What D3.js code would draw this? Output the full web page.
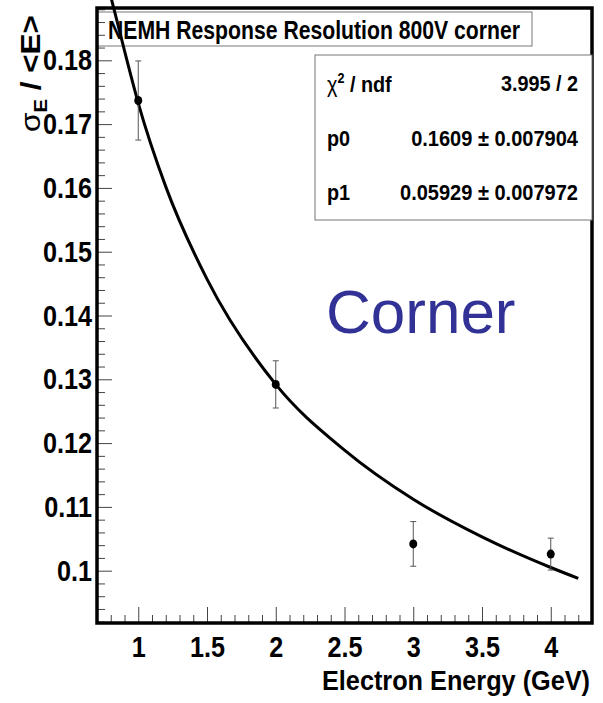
<!DOCTYPE html>
<html>
<head>
<meta charset="utf-8">
<script src="https://cdn.jsdelivr.net/npm/d3@7"></script>
<style>
  html, body { margin: 0; padding: 0; background: #fff; }
  svg text { font-family: 'Liberation Sans Narrow', 'Arial Narrow', 'Liberation Sans', Arial, sans-serif; font-weight: bold; }
</style>
</head>
<body>
<div id="chart"></div>
<script>
// measured points
const energies = [1, 2, 3, 4]
const resolution = [0.1737, 0.1292, 0.1042, 0.1026]
const resolutionErr = [0.0062, 0.0037, 0.0035, 0.0025]

// fit curve
const fitEnergies = [0.8, 0.85, 0.9, 1.0, 1.2, 1.5, 2.0, 2.5, 3.0, 3.5, 4.0, 4.2]
const fitValues = [0.1900, 0.1858, 0.1815, 0.1733, 0.1602, 0.1457, 0.1292, 0.1189, 0.1112, 0.1053, 0.1005, 0.0988]

const xTicks = [1, 1.5, 2, 2.5, 3, 3.5, 4]
const yTicks = [0.1, 0.11, 0.12, 0.13, 0.14, 0.15, 0.16, 0.17, 0.18]

const statsLabels = ['p0', 'p1']
const statsValues = ['0.1609 \u00b1 0.007904', '0.05929 \u00b1 0.007972']

const width = 603
const height = 703
const frame = { left: 97, right: 592, top: 8, bottom: 623 }

// squeeze text to look like a condensed font
function narrow(selection, k) {
  selection.each(function() {
    const len = this.getComputedTextLength()
    d3.select(this)
      .attr('textLength', len * k)
      .attr('lengthAdjust', 'spacingAndGlyphs')
  })
}

const svg = d3
  .select('#chart')
  .append('svg')
  .attr('width', width)
  .attr('height', height)

const xPositionScale = d3
  .scaleLinear()
  .domain([0.7, 4.3])
  .range([frame.left, frame.right])

const yPositionScale = d3
  .scaleLinear()
  .domain([0.0918, 0.1882])
  .range([frame.bottom, frame.top])

// title box
svg
  .append('rect')
  .attr('x', frame.left)
  .attr('y', 12)
  .attr('width', 435)
  .attr('height', 34)
  .attr('fill', '#fff')
  .attr('stroke', '#777')
  .attr('stroke-width', 1)

svg
  .append('text')
  .attr('x', 108)
  .attr('y', 39)
  .attr('font-size', 25)
  .attr('textLength', 412)
  .attr('lengthAdjust', 'spacingAndGlyphs')
  .text('NEMH Response Resolution 800V corner')

// axes, ticks pointing inward
const xMinor = d3.range(0.8, 4.25, 0.1).filter(d => Math.abs(d * 2 - Math.round(d * 2)) > 0.01)
const yMinor = d3.range(0.092, 0.1881, 0.002).filter(d => Math.abs(d * 100 - Math.round(d * 100)) > 0.01)

svg
  .append('g')
  .attr('class', 'axis x-axis')
  .attr('transform', 'translate(0,' + frame.bottom + ')')
  .call(d3.axisBottom(xPositionScale).tickValues(xTicks).tickSize(-16).tickPadding(13).tickFormat(d3.format('')))

svg
  .append('g')
  .attr('class', 'axis x-minor')
  .attr('transform', 'translate(0,' + frame.bottom + ')')
  .call(d3.axisBottom(xPositionScale).tickValues(xMinor).tickSize(-8).tickFormat(''))

svg
  .append('g')
  .attr('class', 'axis y-axis')
  .attr('transform', 'translate(' + frame.left + ',0)')
  .call(d3.axisLeft(yPositionScale).tickValues(yTicks).tickSize(-15).tickPadding(5).tickFormat(d3.format('')))

svg
  .append('g')
  .attr('class', 'axis y-minor')
  .attr('transform', 'translate(' + frame.left + ',0)')
  .call(d3.axisLeft(yPositionScale).tickValues(yMinor).tickSize(-8).tickFormat(''))

svg.selectAll('.axis .domain').remove()
svg.selectAll('.axis line').attr('stroke', '#444').attr('stroke-width', 1)
svg.selectAll('.axis').attr('font-family', null).attr('font-size', null)
svg
  .selectAll('.axis text')
  .attr('font-size', 30)
  .attr('fill', '#000')
  .call(narrow, 0.84)

// frame
svg
  .append('rect')
  .attr('x', frame.left)
  .attr('y', frame.top)
  .attr('width', frame.right - frame.left)
  .attr('height', frame.bottom - frame.top)
  .attr('fill', 'none')
  .attr('stroke', '#000')
  .attr('stroke-width', 3.5)

// stats box
svg
  .append('rect')
  .attr('x', 315)
  .attr('y', 55)
  .attr('width', frame.right - 315)
  .attr('height', 165)
  .attr('fill', '#fff')
  .attr('stroke', '#777')
  .attr('stroke-width', 1)

const chiLabel = svg
  .append('text')
  .attr('x', 327)
  .attr('y', 92)
  .attr('font-size', 22)
chiLabel.append('tspan').style('font-weight', 'normal').text('\u03c7')
chiLabel.append('tspan').attr('dy', -9).attr('font-size', 14).text('2')
chiLabel.append('tspan').attr('dy', 9).text(' / ndf')
chiLabel.call(narrow, 0.9)

svg
  .append('text')
  .attr('x', 578)
  .attr('y', 91)
  .attr('font-size', 22)
  .attr('text-anchor', 'end')
  .text('3.995 / 2')
  .call(narrow, 0.9)

svg
  .selectAll('.stat-label')
  .data(statsLabels)
  .enter()
  .append('text')
  .attr('class', 'stat-label')
  .attr('x', 327)
  .attr('y', (d, i) => 146 + i * 54)
  .attr('font-size', 22)
  .text(d => d)
  .call(narrow, 0.9)

svg
  .selectAll('.stat-value')
  .data(statsValues)
  .enter()
  .append('text')
  .attr('class', 'stat-value')
  .attr('x', 578)
  .attr('y', (d, i) => 146 + i * 54)
  .attr('font-size', 22)
  .attr('text-anchor', 'end')
  .text(d => d)
  .call(narrow, 0.91)

// big label
svg
  .append('text')
  .attr('x', 326)
  .attr('y', 333)
  .attr('font-size', 62)
  .style('font-family', "'Liberation Sans', Arial, sans-serif")
  .style('font-weight', 'normal')
  .attr('fill', '#323296')
  .text('Corner')

// fit curve
const fitPoints = fitEnergies.map((e, i) => ({ e: e, v: fitValues[i] }))
const line = d3
  .line()
  .x(d => xPositionScale(d.e))
  .y(d => yPositionScale(d.v))
  .curve(d3.curveMonotoneX)

svg
  .append('path')
  .datum(fitPoints)
  .attr('d', line)
  .attr('fill', 'none')
  .attr('stroke', '#000')
  .attr('stroke-width', 3)

// data points with error bars
const datapoints = energies.map((e, i) => ({ e: e, v: resolution[i], err: resolutionErr[i] }))

const points = svg
  .selectAll('.point')
  .data(datapoints)
  .enter()
  .append('g')
  .attr('class', 'point')

points
  .append('line')
  .attr('x1', d => xPositionScale(d.e))
  .attr('x2', d => xPositionScale(d.e))
  .attr('y1', d => yPositionScale(d.v - d.err))
  .attr('y2', d => yPositionScale(d.v + d.err))
  .attr('stroke', '#555')
  .attr('stroke-width', 1)

points
  .selectAll('.cap')
  .data(d => [d.v - d.err, d.v + d.err].map(v => ({ e: d.e, v: v })))
  .enter()
  .append('line')
  .attr('class', 'cap')
  .attr('x1', d => xPositionScale(d.e) - 3)
  .attr('x2', d => xPositionScale(d.e) + 3)
  .attr('y1', d => yPositionScale(d.v))
  .attr('y2', d => yPositionScale(d.v))
  .attr('stroke', '#555')
  .attr('stroke-width', 1)

points
  .append('ellipse')
  .attr('cx', d => xPositionScale(d.e))
  .attr('cy', d => yPositionScale(d.v))
  .attr('rx', 4)
  .attr('ry', 4.5)
  .attr('fill', '#000')

// axis titles
svg
  .append('text')
  .attr('x', 590)
  .attr('y', 690)
  .attr('font-size', 27)
  .attr('text-anchor', 'end')
  .attr('textLength', 268)
  .attr('lengthAdjust', 'spacingAndGlyphs')
  .text('Electron Energy (GeV)')

const yTitle = svg
  .append('text')
  .attr('transform', 'translate(40,15) rotate(-90)')
  .attr('font-size', 28)
  .attr('text-anchor', 'end')
yTitle.append('tspan').style('font-weight', 'normal').text('\u03c3')
yTitle.append('tspan').attr('dy', 7).attr('font-size', 18).text('E')
yTitle.append('tspan').attr('dy', -7).text(' / <E>')
yTitle.attr('textLength', 117).attr('lengthAdjust', 'spacingAndGlyphs')
</script>
</body>
</html>
